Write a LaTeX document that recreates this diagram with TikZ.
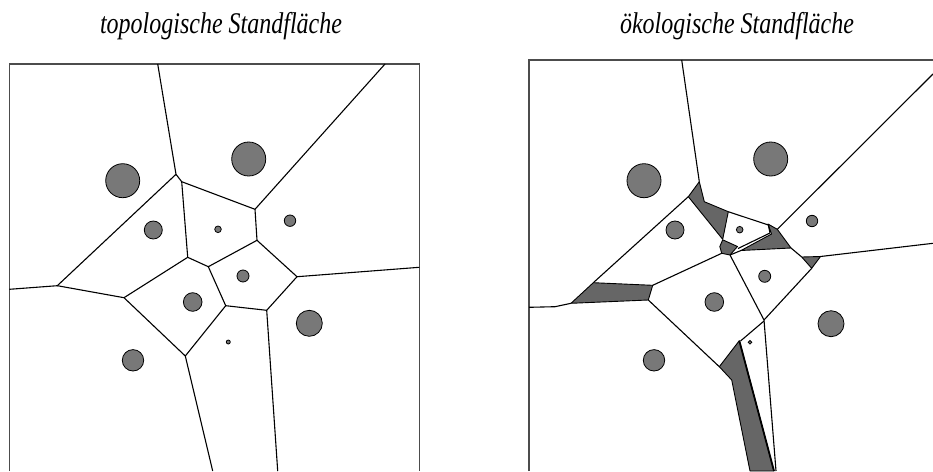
\documentclass[tikz,border=0pt]{standalone}
\usepackage{fontspec}
\setmainfont{Liberation Serif}
\begin{document}
\begin{tikzpicture}[x=1pt,y=-1pt,
  edge/.style={draw=black,line width=1.1pt,line join=round},
  frame/.style={draw=black!70,line width=1.4pt},
  tree/.style={circle,draw=black,line width=0.8pt,fill=treefill,inner sep=0pt},
  gap/.style={fill=gapfill,draw=black,line width=0.9pt,line join=round},
  title/.style={font=\fontsize{30}{32}\selectfont\itshape,xscale=0.8,anchor=base}]
\definecolor{treefill}{gray}{0.47}
\definecolor{gapfill}{gray}{0.40}
\useasboundingbox (0,0) rectangle (933,471);

% ---------- titles ----------
\node[title] (t1) at (221,33) {topologische Standfläche};
\node[title] (t2) at (737,33) {ökologische Standfläche};

% ---------- left panel ----------
\draw[frame] (9.3,471) -- (9.3,64) -- (419.3,64) -- (419.3,471);
\coordinate (LA) at (157.7,64);
\coordinate (LB) at (385,64);
\coordinate (L1) at (176,174.3);
\coordinate (L1b) at (181.7,181.7);
\coordinate (L2) at (255,209.3);
\coordinate (L3) at (257,240.3);
\coordinate (L4) at (187.7,257.3);
\coordinate (L5) at (208.3,266.7);
\coordinate (L6) at (297,276.7);
\coordinate (LR) at (419.3,267.3);
\coordinate (L7) at (266.7,310.3);
\coordinate (L8) at (225.7,305.7);
\coordinate (L9) at (185.3,356);
\coordinate (L10) at (124,297.7);
\coordinate (L11) at (57.3,285.7);
\coordinate (LL) at (9.3,289.3);
\coordinate (LB9) at (212.7,471);
\coordinate (LB7) at (277.7,471);
\draw[edge] (LA) -- (L1) -- (L1b) -- (L2) -- (LB);
\draw[edge] (L1) -- (L11) -- (LL);
\draw[edge] (L1b) -- (L4) -- (L5) -- (L3) -- (L2);
\draw[edge] (L3) -- (L6) -- (LR);
\draw[edge] (L6) -- (L7) -- (L8) -- (L5);
\draw[edge] (L4) -- (L10) -- (L11);
\draw[edge] (L10) -- (L9) -- (L8);
\draw[edge] (L9) -- (LB9);
\draw[edge] (L7) -- (LB7);

\node[tree,minimum size=34pt] (a1) at (122.7,180.7) {};
\node[tree,minimum size=34pt] (a2) at (248.7,159) {};
\node[tree,minimum size=18pt] (a3) at (153.3,230) {};
\node[tree,minimum size=6.6pt] (a4) at (218,229.3) {};
\node[tree,minimum size=11.4pt] (a5) at (290,220.7) {};
\node[tree,minimum size=12pt] (a6) at (243,276) {};
\node[tree,minimum size=18.6pt] (a7) at (192.7,302) {};
\node[tree,minimum size=26pt] (a8) at (309.3,323.3) {};
\node[tree,minimum size=21.4pt] (a9) at (133,360.3) {};
\node[tree,minimum size=4pt] (a10) at (228.3,342) {};

% ---------- right panel ----------
\draw[frame] (529,471) -- (529,60) -- (933,60);
% gaps (ecological shortfall)
\draw[gap] (699.3,181.7) -- (704.3,201.7) -- (728.3,211.7) -- (722.7,239.3) -- (688.3,196.7) -- cycle;
\draw[gap] (722.7,239.8) -- (737.5,246.5) -- (730,255) -- (721.7,253.3) -- (719.8,246.5) -- cycle;
\draw[gap] (768,224) -- (777.3,229.3) -- (791,248) -- (741,250.5) -- (771.5,234) -- cycle;
\draw[gap] (801.7,257) -- (820.5,256.5) -- (811.7,268.3) -- cycle;
\draw[gap] (593.3,282.7) -- (652.7,285.3) -- (648.3,300) -- (571,303.3) -- cycle;
\draw[gap] (719.3,366.7) -- (739.3,340.7) -- (774,471) -- (750,471) -- (731.7,380) -- cycle;

% cell borders
\draw[edge] (681.7,60) -- (699.3,181.7);
\draw[edge] (688.3,196.7) -- (593.3,282.7);
\draw[edge] (571,303.3) -- (555,306.7) -- (529,307.3);
\draw[edge] (728.3,211.7) -- (768.3,225) -- (770,233) -- (738,248.5);
\draw[edge] (933,74) -- (777.3,229.3);
\draw[edge] (791,248) -- (801.7,257);
\draw[edge] (820.5,256.5) -- (933,243.3);
\draw[edge] (811.7,268.3) -- (764,320);
\draw[edge] (652.7,285.3) -- (721.7,253.3);
\draw[edge] (730,255) -- (741,250.5);
\draw[edge] (730,255) -- (764,320) -- (776,471);
\draw[edge] (648.3,300) -- (719.3,366.7);
\draw[edge] (764,321) -- (740.5,341);
\draw[line width=1.8pt] (739.3,340.7) -- (774,471);

\node[tree,minimum size=34pt] (b1) at (644,180.7) {};
\node[tree,minimum size=34pt] (b2) at (770.7,159) {};
\node[tree,minimum size=18pt] (b3) at (675,230) {};
\node[tree,minimum size=6.6pt] (b4) at (739.7,229.7) {};
\node[tree,minimum size=11.4pt] (b5) at (812,221) {};
\node[tree,minimum size=12pt] (b6) at (764.7,276.3) {};
\node[tree,minimum size=18.6pt] (b7) at (714.3,302) {};
\node[tree,minimum size=26pt] (b8) at (831,323.7) {};
\node[tree,minimum size=21.4pt] (b9) at (654,360.3) {};
\node[tree,minimum size=3.6pt] (b10) at (750,342.3) {};
\end{tikzpicture}
\end{document}
